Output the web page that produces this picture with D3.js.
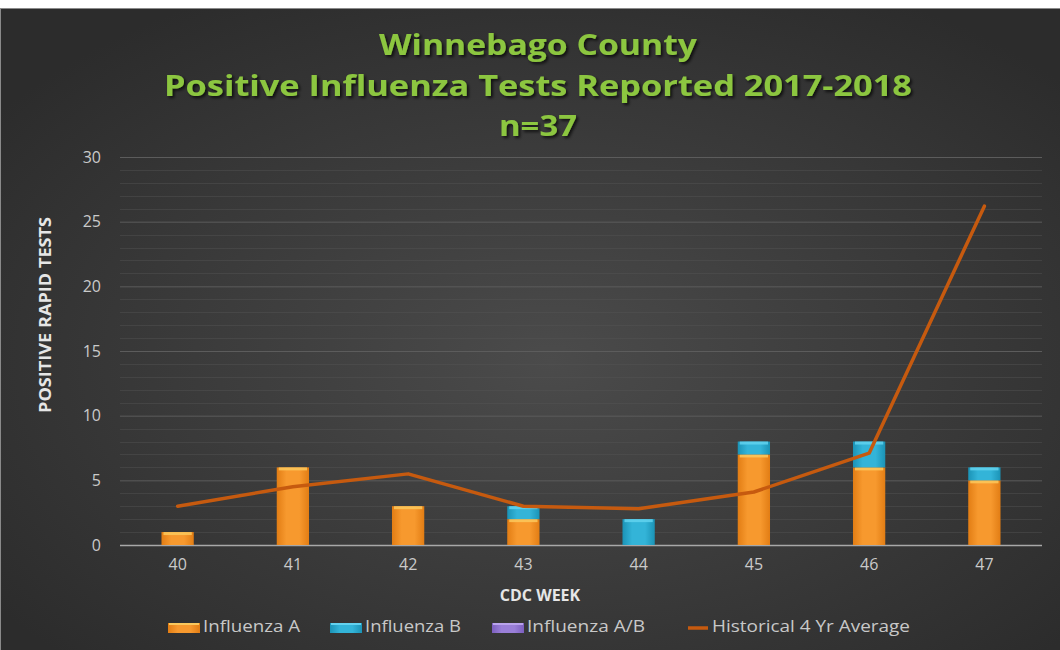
<!DOCTYPE html>
<html>
<head>
<meta charset="utf-8">
<script src="https://cdn.jsdelivr.net/npm/d3@7"></script>
<style>
  html, body { margin: 0; padding: 0; background: #fff; }
  svg { display: block; }
</style>
</head>
<body>
<div id="chart"></div>
<script>
const weeks = ['40', '41', '42', '43', '44', '45', '46', '47'];
const fluA = [1, 6, 3, 2, 0, 7, 6, 5];
const fluB = [0, 0, 0, 1, 2, 1, 2, 1];
const fluAB = [0, 0, 0, 0, 0, 0, 0, 0];
const histAvg = [3.0, 4.5, 5.5, 3.0, 2.8, 4.1, 7.1, 26.2];
const yTicks = [0, 5, 10, 15, 20, 25, 30];
const titleLines = ['Winnebago County', 'Positive Influenza Tests Reported 2017-2018', 'n=37'];

(function() {
  const width = 1060, height = 650;
  const margin = { top: 157, right: 18, bottom: 105, left: 120 };
  const innerWidth = width - margin.left - margin.right;
  const innerHeight = height - margin.top - margin.bottom;

  const svg = d3.select('#chart').append('svg')
    .attr('width', width)
    .attr('height', height);

  const defs = svg.append('defs');

  const bg = defs.append('radialGradient').attr('id', 'bg')
    .attr('cx', '52%').attr('cy', '55%').attr('r', '65%');
  bg.append('stop').attr('offset', '0%').attr('stop-color', '#4b4b4b');
  bg.append('stop').attr('offset', '100%').attr('stop-color', '#2c2c2c');

  function barGrad(id, edge, mid) {
    const g = defs.append('linearGradient').attr('id', id)
      .attr('x1', '0%').attr('x2', '100%').attr('y1', '0%').attr('y2', '0%');
    g.append('stop').attr('offset', '0%').attr('stop-color', edge);
    g.append('stop').attr('offset', '30%').attr('stop-color', mid);
    g.append('stop').attr('offset', '70%').attr('stop-color', mid);
    g.append('stop').attr('offset', '100%').attr('stop-color', edge);
  }
  barGrad('gA', '#e27d14', '#f7992e');
  barGrad('gB', '#1b93b6', '#33b4d8');
  barGrad('gAB', '#7c5fbf', '#9a7fd8');

  const shadow = defs.append('filter').attr('id', 'shadow')
    .attr('x', '-10%').attr('y', '-30%').attr('width', '120%').attr('height', '160%');
  shadow.append('feDropShadow').attr('dx', 2).attr('dy', 2).attr('stdDeviation', 1.5)
    .attr('flood-color', '#000').attr('flood-opacity', 0.7);

  // background
  svg.append('rect').attr('x', 0).attr('y', 0).attr('width', width).attr('height', height).attr('fill', '#fff');
  svg.append('rect').attr('x', 0).attr('y', 8).attr('width', width).attr('height', height - 8)
    .attr('fill', 'url(#bg)');
  svg.append('line').attr('x1', 0).attr('x2', width).attr('y1', 8.5).attr('y2', 8.5)
    .attr('stroke', '#8a8a8a').attr('stroke-width', 1);
  svg.append('line').attr('x1', 0.5).attr('x2', 0.5).attr('y1', 8).attr('y2', height)
    .attr('stroke', '#8a8a8a').attr('stroke-width', 1);

  // title
  const titleY = [47, 88, 128];
  const titleW = [318, 748, 78];
  svg.append('g').attr('filter', 'url(#shadow)')
    .selectAll('text').data(titleLines).enter().append('text')
      .attr('x', 538)
      .attr('y', function(d, i) { return titleY[i]; })
      .attr('text-anchor', 'middle')
      .attr('dominant-baseline', 'middle')
      .attr('textLength', function(d, i) { return titleW[i]; })
      .attr('lengthAdjust', 'spacingAndGlyphs')
      .style('font-family', '"Open Sans", sans-serif')
      .style('font-weight', 'bold')
      .style('font-size', '29px')
      .style('fill', '#8cc63f')
      .text(function(d) { return d; });

  const g = svg.append('g')
    .attr('transform', 'translate(' + margin.left + ',' + margin.top + ')');

  const x = d3.scaleBand().domain(weeks).range([0, innerWidth])
    .paddingInner(0.72).paddingOuter(0.36);
  const y = d3.scaleLinear().domain([0, 30]).range([innerHeight, 0]);

  // minor gridlines
  g.append('g').selectAll('line').data(d3.range(1, 31).filter(function(v) { return v % 5 !== 0; }))
    .enter().append('line')
      .attr('x1', 0).attr('x2', innerWidth)
      .attr('y1', function(d) { return Math.round(y(d)) + 0.5; })
      .attr('y2', function(d) { return Math.round(y(d)) + 0.5; })
      .attr('stroke', '#555').attr('stroke-opacity', 0.45);

  // y axis with major gridlines
  const yAxis = g.append('g')
    .call(d3.axisLeft(y).tickValues(yTicks).tickSize(-innerWidth).tickPadding(19));
  yAxis.select('.domain').remove();
  yAxis.selectAll('.tick line').attr('stroke', function(d) { return d === 0 ? '#a8a8a8' : '#5c5c5c'; })
    .attr('stroke-width', function(d) { return d === 0 ? 1.5 : 1; });
  yAxis.selectAll('.tick text')
    .style('fill', '#cacaca')
    .style('font-family', '"Open Sans", sans-serif')
    .style('font-size', '16px');

  // x axis
  const xAxis = g.append('g')
    .attr('transform', 'translate(0,' + innerHeight + ')')
    .call(d3.axisBottom(x).tickSize(0).tickPadding(14));
  xAxis.select('.domain').remove();
  xAxis.selectAll('.tick text')
    .style('fill', '#cacaca')
    .style('font-family', '"Open Sans", sans-serif')
    .style('font-size', '16px');

  // stacked bars
  const rows = weeks.map(function(w, i) { return { week: w, A: fluA[i], B: fluB[i], AB: fluAB[i] }; });
  const stack = d3.stack().keys(['A', 'B', 'AB'])(rows);
  const fills = { A: 'url(#gA)', B: 'url(#gB)', AB: 'url(#gAB)' };
  const highlights = { A: '#fbc85c', B: '#62d2ef', AB: '#b9a3ec' };

  stack.forEach(function(layer) {
    const lg = g.append('g');
    const segs = layer.filter(function(d) { return d[1] - d[0] > 0; });
    lg.selectAll('rect.bar').data(segs).enter().append('rect')
      .attr('class', 'bar')
      .attr('x', function(d) { return x(d.data.week); })
      .attr('y', function(d) { return y(d[1]); })
      .attr('width', x.bandwidth())
      .attr('height', function(d) { return y(d[0]) - y(d[1]); })
      .attr('fill', fills[layer.key]);
    lg.selectAll('rect.hl').data(segs).enter().append('rect')
      .attr('class', 'hl')
      .attr('x', function(d) { return x(d.data.week) + 2; })
      .attr('y', function(d) { return y(d[1]); })
      .attr('width', x.bandwidth() - 4)
      .attr('height', 3)
      .attr('fill', highlights[layer.key])
      .attr('opacity', 0.85);
  });

  // historical average line
  const line = d3.line()
    .x(function(d, i) { return x(weeks[i]) + x.bandwidth() / 2; })
    .y(function(d) { return y(d); });
  g.append('path').datum(histAvg)
    .attr('d', line)
    .attr('fill', 'none')
    .attr('stroke', '#c65a0f')
    .attr('stroke-width', 3.5)
    .attr('stroke-linejoin', 'round')
    .attr('stroke-linecap', 'round');

  // axis titles
  svg.append('text')
    .attr('transform', 'translate(51,' + 315 + ') rotate(-90)')
    .attr('text-anchor', 'middle')
    .attr('textLength', 196)
    .attr('lengthAdjust', 'spacingAndGlyphs')
    .style('font-family', '"Open Sans", sans-serif')
    .style('font-weight', 'bold')
    .style('font-size', '16px')
    .style('fill', '#e6e6e6')
    .text('POSITIVE RAPID TESTS');

  svg.append('text')
    .attr('x', 540).attr('y', 601)
    .attr('text-anchor', 'middle')
    .style('font-family', '"Open Sans", sans-serif')
    .style('font-weight', 'bold')
    .style('font-size', '16px')
    .style('fill', '#e6e6e6')
    .text('CDC WEEK');

  // legend
  const legendItems = [
    { label: 'Influenza A', type: 'rect', fill: 'url(#gA)', hl: highlights.A, x: 168, tw: 97 },
    { label: 'Influenza B', type: 'rect', fill: 'url(#gB)', hl: highlights.B, x: 330, tw: 96 },
    { label: 'Influenza A/B', type: 'rect', fill: 'url(#gAB)', hl: highlights.AB, x: 492, tw: 118 },
    { label: 'Historical 4 Yr Average', type: 'line', fill: '#c65a0f', x: 688, tw: 198 }
  ];
  const lgd = svg.append('g').attr('transform', 'translate(0,628)');
  const item = lgd.selectAll('g').data(legendItems).enter().append('g')
    .attr('transform', function(d) { return 'translate(' + d.x + ',0)'; });
  item.filter(function(d) { return d.type === 'rect'; }).append('rect')
    .attr('x', 0).attr('y', -5).attr('width', 32).attr('height', 10)
    .attr('fill', function(d) { return d.fill; });
  item.filter(function(d) { return d.type === 'rect'; }).append('rect')
    .attr('x', 1).attr('y', -5).attr('width', 30).attr('height', 2)
    .attr('fill', function(d) { return d.hl; });
  item.filter(function(d) { return d.type === 'line'; }).append('line')
    .attr('x1', 0).attr('x2', 20).attr('y1', 0).attr('y2', 0)
    .attr('stroke', function(d) { return d.fill; }).attr('stroke-width', 3.5);
  item.append('text')
    .attr('x', function(d) { return d.type === 'rect' ? 35 : 24; })
    .attr('y', 0)
    .attr('dominant-baseline', 'middle')
    .attr('textLength', function(d) { return d.tw; })
    .attr('lengthAdjust', 'spacingAndGlyphs')
    .style('font-family', '"Open Sans", sans-serif')
    .style('font-size', '16px')
    .style('fill', '#c8c8c8')
    .text(function(d) { return d.label; });
})();
</script>
</body>
</html>
